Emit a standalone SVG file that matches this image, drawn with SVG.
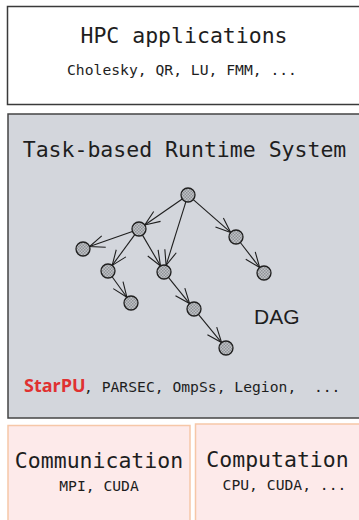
<svg xmlns="http://www.w3.org/2000/svg" width="359" height="520" viewBox="0 0 359 520">
<defs>
<pattern id="hatch" width="3" height="3" patternUnits="userSpaceOnUse">
<rect width="3" height="3" fill="#c0c2c6"/>
<rect width="1.5" height="1.5" fill="#8f9297"/>
<rect x="1.5" y="1.5" width="1.5" height="1.5" fill="#8f9297"/>
</pattern>
<marker id="arr" viewBox="-16 -8 17 16" refX="0" refY="0" markerWidth="17" markerHeight="16" markerUnits="userSpaceOnUse" orient="auto">
<path d="M-15,-6 L0,0 L-15,6" fill="none" stroke="#1e1e1e" stroke-width="1.1"/>
</marker>
</defs>
<style>
.mono{font-family:"DejaVu Sans Mono","Liberation Mono",monospace;fill:#1e1e1e;text-anchor:middle}
.big{font-size:21.5px}
.small{font-size:14.7px}
.node{fill:url(#hatch);stroke:#1e1e1e;stroke-width:1.3}
.edge{stroke:#1e1e1e;stroke-width:1.1;fill:none;marker-end:url(#arr)}
</style>
<g id="hpc">
<rect x="7.5" y="6.5" width="360" height="98" fill="#ffffff" stroke="#3a3a3a" stroke-width="1.5"/>
<text class="mono big" x="184" y="43">HPC applications</text>
<text class="mono small" x="182" y="75">Cholesky, QR, LU, FMM, ...</text>
</g>
<g id="runtime">
<rect x="8" y="114" width="360" height="304" fill="#d3d6dc" stroke="#444444" stroke-width="1.5"/>
<text class="mono big" x="184.5" y="157">Task-based Runtime System</text>
<text x="24" y="392" font-family="'Open Sans','Liberation Sans',sans-serif" font-weight="bold" font-size="18px" fill="#e03131">StarPU</text>
<text x="84" y="392" font-family="'DejaVu Sans Mono','Liberation Mono',monospace" font-size="14.7px" fill="#1e1e1e" xml:space="preserve">, PARSEC, OmpSs, Legion,  ...</text>
<text x="254" y="324" font-family="'Liberation Sans',sans-serif" font-size="21px" fill="#1e1e1e">DAG</text>
</g>
<g id="connectors">
<line class="edge" x1="182.2" y1="199" x2="144.8" y2="225"/>
<line class="edge" x1="185.9" y1="201.7" x2="166.1" y2="265.3"/>
<line class="edge" x1="193.3" y1="199.6" x2="230.7" y2="232.4"/>
<line class="edge" x1="132.4" y1="231.4" x2="89.6" y2="246.6"/>
<line class="edge" x1="134.8" y1="234.6" x2="112.2" y2="265.4"/>
<line class="edge" x1="142.5" y1="235.1" x2="160.5" y2="265.9"/>
<line class="edge" x1="112.1" y1="276.7" x2="126.9" y2="297.3"/>
<line class="edge" x1="168.4" y1="277.4" x2="189.6" y2="303.6"/>
<line class="edge" x1="198.4" y1="314.4" x2="221.6" y2="342.6"/>
<line class="edge" x1="240.3" y1="242.5" x2="259.7" y2="267.5"/>
</g>
<g id="dag-nodes">
<g id="nA"><circle class="node" cx="188" cy="195" r="7"/></g>
<g id="nB"><circle class="node" cx="139" cy="229" r="7"/></g>
<g id="nC"><circle class="node" cx="83" cy="249" r="7"/></g>
<g id="nD"><circle class="node" cx="108" cy="271" r="7"/></g>
<g id="nE"><circle class="node" cx="164" cy="272" r="7"/></g>
<g id="nF"><circle class="node" cx="236" cy="237" r="7"/></g>
<g id="nG"><circle class="node" cx="264" cy="273" r="7"/></g>
<g id="nH"><circle class="node" cx="131" cy="303" r="7"/></g>
<g id="nI"><circle class="node" cx="194" cy="309" r="7"/></g>
<g id="nJ"><circle class="node" cx="226" cy="348" r="7"/></g>
</g>
<g id="communication">
<rect x="8" y="425.5" width="182" height="110" fill="#fdeaea" stroke="#f6c7a8" stroke-width="1.5"/>
<text class="mono big" x="99" y="468">Communication</text>
<text class="mono small" x="99" y="491">MPI, CUDA</text>
</g>
<g id="computation">
<rect x="195.5" y="424" width="180" height="110" fill="#fdeaea" stroke="#f6c7a8" stroke-width="1.5"/>
<text class="mono big" x="277.5" y="467">Computation</text>
<text class="mono small" x="284.5" y="490">CPU, CUDA, ...</text>
</g>
</svg>
